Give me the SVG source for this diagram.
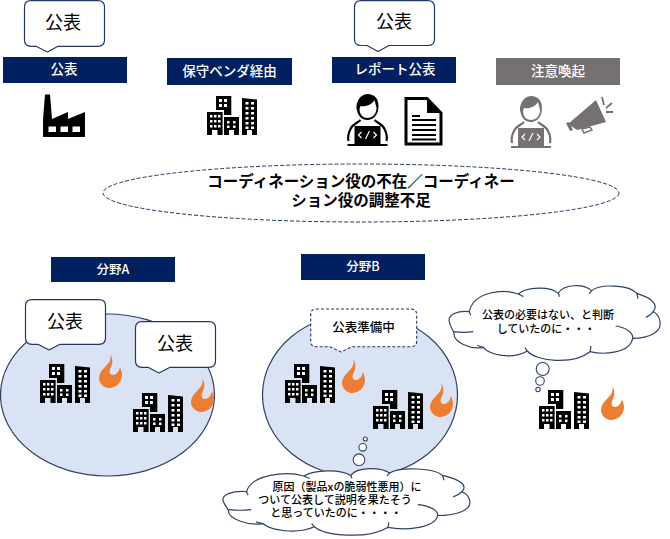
<svg xmlns="http://www.w3.org/2000/svg" width="670" height="539" viewBox="0 0 670 539">
<style>
text{font-family:"Noto Sans CJK JP","Noto Sans",sans-serif;text-anchor:middle;fill:#000}
.bar{fill:#002060}
.gbar{fill:#767171}
.bt{fill:#fff;font-size:13.5px;font-weight:500}
.co{fill:#fff;stroke:#203864;stroke-width:1.2;stroke-linejoin:round}
.ct{font-size:18px}
.blob{fill:#dae3f3;stroke:#2f4266;stroke-width:1.2}
.cl{fill:#fff;stroke:#2f4266;stroke-width:1.2;vector-effect:non-scaling-stroke}
.hk{fill:none;stroke:#2f4266;stroke-width:1.2;vector-effect:non-scaling-stroke}
.tb{fill:#fff;stroke:#2f4266;stroke-width:1.1}
.s{font-size:11px;font-weight:500}
</style>
<defs>
<g id="bld">
<path d="M9 0H24.300V19H17V14H9Z M0 16H15.600V39H10.500V34H5V39H0Z M17 21H32V39H27V34H22V39H17Z M35 2L50 3.500V39H45V34H40V39H35Z" fill="#000"/>
<path fill="#fff" d="M12 3h3v3h-3z M17 3h3v3h-3z M12 8h3v3h-3z M17 8h3v3h-3z M3 19h2.500v2.500H3z M7 19h2.500v2.500H7z M11 19h2.500v2.500H11z M3 24h2.500v2.500H3z M7 24h2.500v2.500H7z M11 24h2.500v2.500H11z M3 29h2.500v2.500H3z M7 29h2.500v2.500H7z M11 29h2.500v2.500H11z M20 25h2.500v2.500H20z M26 25h2.500v2.500H26z M20 29.500h2.500v2.500H20z M26 29.500h2.500v2.500H26z M38.500 6h3v2.500h-3z M44 6h3v2.500h-3z M38.500 11h3v2.500h-3z M44 11h3v2.500h-3z M38.500 16h3v2.500h-3z M44 16h3v2.500h-3z M38.500 21h3v2.500h-3z M44 21h3v2.500h-3z M38.500 26h3v2.500h-3z M44 26h3v2.500h-3z M38.500 30.500h3v2.500h-3z M44 30.500h3v2.500h-3z"/>
</g>
<path id="fl" fill="#ed7d31" d="M11 0C13 5 10 9 6 13C2 17 0 20 0 24C0 29 4 33 9 34C16 34.500 23 29 23 21C23 18 22 16 21 13C20 18 17 21 14 21C10 21 10 17 12 13C14 9 14 4 11 0Z"/>
<g id="cloudshape">
<path class="cl" d="M42 190C40 215 90 240 130 232C150 255 215 270 262 243C290 275 400 285 450 245C490 255 570 250 578 205C630 205 665 185 660 155C658 140 650 130 640 125C655 105 640 85 590 70C570 45 480 40 455 62C430 40 370 42 355 70C330 48 260 50 235 72C190 55 100 65 88 125C55 120 22 135 28 155C30 170 40 180 42 190Z"/>
<path class="hk" d="M42 185C60 188 80 188 100 185M130 232C122 231 117 229 112 226M262 243C258 238 256 235 255 232M450 245C452 238 453 234 452 228M578 205C580 190 560 172 527 168M640 125C635 132 628 138 618 142M590 70C592 75 594 80 594 86M455 62C452 65 450 68 448 72M355 70C357 74 358 77 358 80M235 72C240 75 245 77 250 80M88 125C89 129 90 132 92 136"/>
</g>
<g id="person">
<path d="M20 0C27 0 31.500 5 31 13C30.500 21 26 26 20 26C14 26 10 21 9.500 16C8 12 10 1 20 0Z" fill="currentColor"/>
<path d="M13 12C18 13 24 11 27 6L29 14C29 20 25 24 20 24C15 24 12 20 12 15Z" fill="#fff"/>
<path d="M13 26C10 29 5 30 3 35C1 39 0 43 1 47M27 26C30 29 35 30 37 35C39 39 40 43 39 47" fill="none" stroke="currentColor" stroke-width="2.200"/>
<path d="M7 32H33V50H7Z" fill="currentColor"/>
<path d="M0 50H40V52H0Z" fill="currentColor"/>
<path d="M14 38L11 41L14 44M26 38L29 41L26 44M22 37L18 45" fill="none" stroke="#fff" stroke-width="1.200"/>
</g>
</defs>

<g id="ellipse-a"><ellipse class="blob" cx="107.500" cy="395" rx="107" ry="81"/></g>
<g id="ellipse-b"><ellipse class="blob" cx="360" cy="395" rx="97.500" ry="82"/></g>

<g id="top-callout-1"><path class="co" d="M31 .6H98Q104.500 .6 104.500 7V40Q104.500 46.300 98 46.300H58L47.500 52L36 46.300H31Q24.500 46.300 24.500 40V7Q24.500 .6 31 .6Z"/><text class="ct" x="63" y="29">公表</text></g>
<g id="top-callout-2"><path class="co" d="M361 .6H428Q434.500 .6 434.500 7V39Q434.500 45.500 428 45.500H389L378 51.500L367 45.500H361Q354.500 45.500 354.500 39V7Q354.500 .6 361 .6Z"/><text class="ct" x="394" y="28">公表</text></g>

<g id="bar-1"><rect class="bar" x="3" y="57" width="124" height="26"/><text class="bt" x="64" y="74">公表</text></g>
<g id="bar-2"><rect class="bar" x="167" y="58" width="125" height="27"/><text class="bt" x="229.500" y="76">保守ベンダ経由</text></g>
<g id="bar-3"><rect class="bar" x="332" y="57" width="124" height="26"/><text class="bt" x="395" y="74">レポート公表</text></g>
<g id="bar-4"><rect class="gbar" x="496" y="58" width="124" height="27"/><text class="bt" x="558" y="76">注意喚起</text></g>

<g id="factory"><path d="M45 94.500H50L52 119L68 112V119L85 112V137H43V120Z" fill="#000"/><path fill="#fff" d="M48.500 126.500h7.500v5.500h-7.500zM60.500 126.500h7.500v5.500h-7.500zM72.500 126.500h7.500v5.500h-7.500z"/></g>
<g id="vendor-building"><use href="#bld" x="207" y="96"/></g>
<g id="person-black" color="#000"><use href="#person" x="347.500" y="94"/></g>
<g id="document"><path d="M406 98.500H427L441 113V144H406Z" fill="#fff" stroke="#000" stroke-width="3"/><path d="M427 98.500V113H441Z" fill="#000"/><path d="M412 115h8v2h-8zM412 119h24v2h-24zM412 124h24v2h-24zM412 129h24v2h-24zM412 134h24v2h-24zM412 138.500h24v2h-24z" fill="#000"/></g>
<g id="person-grey" color="#767171"><use href="#person" x="511" y="96"/></g>
<g id="megaphone" fill="#767171"><path d="M568 124L596 100L606 122L577 130Z"/><path d="M566 123L569 122L573 130L570 131Z"/><path d="M582 129L590 127L592 130L584 133Z" fill="none" stroke="#767171" stroke-width="1.500"/><path d="M602 97L604 105M612 103L606 108M613 112L606 112" stroke="#767171" stroke-width="1.800" fill="none"/></g>

<g id="central-ellipse"><ellipse cx="361" cy="193" rx="258" ry="29" fill="#fff" stroke="#203864" stroke-width="1" stroke-dasharray="4 2"/><text x="361" y="187" font-size="15.500" font-weight="700">コーディネーション役の不在／コーディネー</text><text x="361" y="206" font-size="15.500" font-weight="700">ション役の調整不足</text></g>

<g id="bar-a"><rect class="bar" x="51" y="257" width="124" height="25"/><text class="bt" x="113" y="274" style="font-size:12.500px">分野A</text></g>
<g id="bar-b"><rect class="bar" x="301" y="254" width="124" height="26"/><text class="bt" x="363" y="271" style="font-size:12.500px">分野B</text></g>

<g id="a-buildings"><use href="#bld" x="40" y="364"/><use href="#fl" x="99" y="354"/><use href="#bld" x="133" y="393"/><use href="#fl" x="191" y="378"/></g>
<g id="b-buildings"><use href="#bld" x="285" y="364"/><use href="#fl" x="342" y="359"/><use href="#bld" x="373" y="390"/><use href="#fl" x="430" y="383"/></g>
<g id="c-buildings"><use href="#bld" x="539" y="390"/><use href="#fl" x="601" y="386"/></g>

<g id="a-callout-1"><path class="co" d="M32 299.600H99Q105.500 299.600 105.500 306V338Q105.500 344.300 99 344.300H60L49 350L38 344.300H32Q25.500 344.300 25.500 338V306Q25.500 299.600 32 299.600Z"/><text class="ct" x="65" y="328">公表</text></g>
<g id="a-callout-2"><path class="co" d="M142 321.600H209Q215.500 321.600 215.500 328V361Q215.500 367.300 209 367.300H170L159 373L148 367.300H142Q135.500 367.300 135.500 361V328Q135.500 321.600 142 321.600Z"/><text class="ct" x="175" y="350">公表</text></g>
<g id="b-callout"><path d="M316 309H411Q416.700 309 416.700 315V341Q416.700 346.700 411 346.700H352L341 352L330 346.700H316Q310.700 346.700 310.700 341V315Q310.700 309 316 309Z" fill="#fff" stroke="#203864" stroke-width="1.100" stroke-dasharray="3 2"/><text x="363.500" y="332" font-size="12.500" font-weight="500">公表準備中</text></g>

<g id="thought-b"><use href="#cloudshape" transform="translate(222 468) scale(.39 .297) translate(-25 -45)"/><circle class="tb" cx="359" cy="459.700" r="5.800"/><circle class="tb" cx="362.700" cy="447.300" r="3.800"/><circle class="tb" cx="365.300" cy="439" r="2"/><text class="s" x="347" y="491">原因（製品xの脆弱性悪用）に</text><text class="s" x="336" y="505"></text><text class="s" x="335" y="504">ついて公表して説明を果たそう</text><text class="s" x="336" y="517">と思っていたのに・・・・</text></g>
<g id="thought-c"><use href="#cloudshape" transform="translate(440 270) scale(.3333)"/><circle class="tb" cx="542.700" cy="369" r="6.500"/><circle class="tb" cx="540" cy="381" r="4.300"/><circle class="tb" cx="538" cy="389.500" r="2.200"/><text class="s" x="548" y="319">公表の必要はない、と判断</text><text class="s" x="546" y="333">していたのに・・・</text></g>
</svg>
